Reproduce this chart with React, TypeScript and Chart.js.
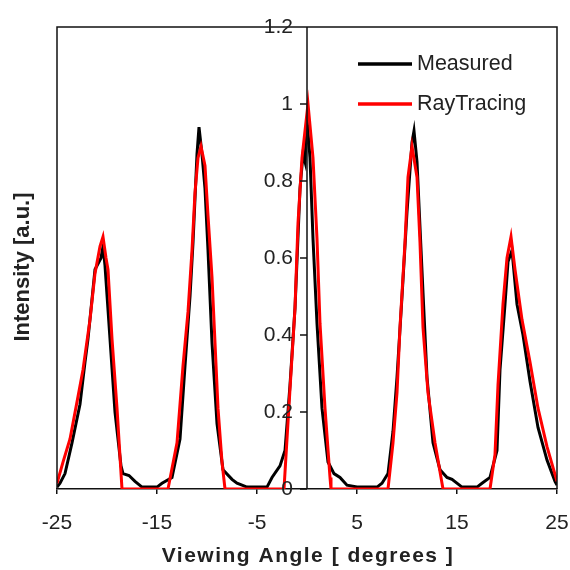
import React, { useEffect, useRef } from "react";
import { Chart, registerables } from "chart.js";

Chart.register(...registerables);

const measuredAngles = [
  -25, -24.7, -24.2, -23.5, -22.7, -22.2, -21.9, -21.2, -20.6, -20.4, -20.2, -19.7, -19.2, -18.6, -18.4, -17.8, -17.2, -16.5,
  -15.0, -14.5, -13.5, -12.7, -12.2, -11.7, -11.4, -11.0, -10.8, -10.5, -10.2, -9.9, -9.5, -9.0, -8.4, -7.5, -7.0, -6.0,
  -4.0, -3.5, -2.7, -2.2, -1.7, -1.2, -0.7, -0.4, -0.2, 0, 0.3, 0.6, 1.0, 1.5, 2.1, 2.7, 3.3, 4.0, 5.0,
  7.0, 7.5, 8.1, 8.6, 9.0, 9.5, 10.0, 10.5, 10.7, 11.0, 11.3, 11.6, 12.0, 12.6, 13.3, 14.0, 14.5, 15.5,
  17.0, 17.5, 18.3, 19.0, 19.3, 19.8, 20.1, 20.5, 21.0, 21.6, 22.3, 23.1, 24.0, 24.8, 25,
];
const measuredValues = [
  0.005, 0.015, 0.04, 0.12, 0.22, 0.33, 0.39, 0.57, 0.6, 0.63, 0.58, 0.39, 0.2, 0.06, 0.04, 0.035, 0.02, 0.005,
  0.005, 0.015, 0.03, 0.13, 0.32, 0.5, 0.64, 0.87, 0.94, 0.87, 0.78, 0.62, 0.38, 0.17, 0.05, 0.025, 0.015, 0.005,
  0.005, 0.03, 0.06, 0.1, 0.27, 0.47, 0.78, 0.87, 0.85, 0.96, 0.86, 0.65, 0.43, 0.21, 0.07, 0.04, 0.03, 0.01, 0.005,
  0.005, 0.015, 0.04, 0.15, 0.29, 0.5, 0.72, 0.9, 0.93, 0.85, 0.68, 0.51, 0.29, 0.12, 0.05, 0.03, 0.025, 0.005,
  0.005, 0.015, 0.03, 0.1, 0.31, 0.48, 0.59, 0.62, 0.48, 0.4, 0.28, 0.16, 0.075, 0.02, 0.01,
];

const rayAngles = [
  -25, -24.4, -23.7, -22.9, -22.4, -21.7, -21.2, -20.7, -20.4, -20.1, -19.9, -19.5, -19.0, -18.5,
  -13.9, -13.0, -12.4, -11.9, -11.5, -11.2, -10.9, -10.6, -10.2, -9.9, -9.5, -9.2, -8.9, -8.5, -8.2,
  -2.3, -1.7, -1.2, -0.9, -0.5, 0.1, 0.6, 1.0, 1.3, 1.8, 2.3, 2.4,
  8.1, 8.6, 9.0, 9.3, 9.8, 10.1, 10.5, 11.0, 11.3, 11.6, 12.1, 12.8, 13.5, 13.6,
  18.3, 18.8, 19.1, 19.6, 20.0, 20.4, 20.8, 21.5, 22.3, 23.1, 24.0, 25,
];
const rayValues = [
  0.015, 0.07, 0.13, 0.24, 0.31, 0.44, 0.56, 0.63, 0.655, 0.6, 0.57, 0.39, 0.21, 0,
  0, 0.12, 0.32, 0.46, 0.62, 0.77, 0.86, 0.89, 0.84, 0.71, 0.55, 0.38, 0.21, 0.07, 0,
  0, 0.26, 0.47, 0.69, 0.86, 1.0, 0.86, 0.65, 0.43, 0.21, 0.03, 0,
  0, 0.12, 0.25, 0.42, 0.64, 0.81, 0.89, 0.81, 0.64, 0.42, 0.25, 0.12, 0.015, 0,
  0, 0.09, 0.27, 0.48, 0.6, 0.655, 0.57, 0.44, 0.33, 0.21, 0.11, 0.02,
];

const xTickValues = [-25, -15, -5, 5, 15, 25];
const yTickValues = [0, 0.2, 0.4, 0.6, 0.8, 1, 1.2];
const seriesNames = ["Measured", "RayTracing"];
const seriesColors = ["#000000", "#ff0000"];
const xTitle = "Viewing Angle [ degrees ]";
const yTitle = "Intensity [a.u.]";

const TICK_FONT = '"Liberation Sans", Arial, sans-serif';
const TEXT_COLOR = "#222222";

const framePlugin = {
  id: "frameAndCenterAxis",
  afterDatasetsDraw(chart: any) {
    const { ctx, chartArea: a, scales } = chart;
    const xs = scales.x;
    const ys = scales.y;
    const x0 = xs.getPixelForValue(0);
    ctx.save();
    ctx.strokeStyle = "#111111";
    ctx.lineWidth = 1.5;
    ctx.beginPath();
    ctx.moveTo(a.left, a.bottom);
    ctx.lineTo(a.left, a.top);
    ctx.lineTo(a.right, a.top);
    ctx.lineTo(a.right, a.bottom);
    ctx.moveTo(x0, a.top);
    ctx.lineTo(x0, a.bottom);
    yTickValues.forEach((v) => {
      const y = ys.getPixelForValue(v);
      ctx.moveTo(x0 - 7, y);
      ctx.lineTo(x0, y);
    });
    ctx.stroke();

    ctx.font = `21px ${TICK_FONT}`;
    ctx.fillStyle = TEXT_COLOR;
    ctx.textAlign = "right";
    ctx.textBaseline = "middle";
    yTickValues.forEach((v) => {
      ctx.fillText(String(v), x0 - 14, ys.getPixelForValue(v));
    });

    // legend inside the plot area
    const lx1 = a.left + 301;
    const lx2 = a.left + 355;
    const ly = [a.top + 37, a.top + 77];
    seriesNames.forEach((name, i) => {
      ctx.strokeStyle = seriesColors[i];
      ctx.lineWidth = 3.5;
      ctx.beginPath();
      ctx.moveTo(lx1, ly[i]);
      ctx.lineTo(lx2, ly[i]);
      ctx.stroke();
      ctx.fillStyle = TEXT_COLOR;
      ctx.textAlign = "left";
      ctx.textBaseline = "middle";
      ctx.font = `21.5px ${TICK_FONT}`;
      ctx.fillText(name, lx2 + 5, ly[i]);
    });

    // axis titles
    ctx.fillStyle = TEXT_COLOR;
    ctx.textAlign = "center";
    ctx.textBaseline = "middle";
    ctx.font = `bold 21px ${TICK_FONT}`;
    try { (ctx as any).letterSpacing = "1.5px"; } catch (e) {}
    ctx.fillText(xTitle, (a.left + a.right) / 2 + 1, 556);
    try { (ctx as any).letterSpacing = "0px"; } catch (e) {}
    ctx.save();
    ctx.translate(23, (a.top + a.bottom) / 2 + 9);
    ctx.rotate(-Math.PI / 2);
    ctx.font = `bold 22px ${TICK_FONT}`;
    ctx.fillText(yTitle, 0, 0);
    ctx.restore();
    ctx.restore();
  },
};

export default function App() {
  const canvasRef = useRef<HTMLCanvasElement | null>(null);

  useEffect(() => {
    const canvas = canvasRef.current;
    if (!canvas) return;
    const toPoints = (xsArr: number[], ysArr: number[]) => xsArr.map((x, i) => ({ x, y: ysArr[i] }));
    const chart = new Chart(canvas, {
      type: "scatter",
      data: {
        datasets: [
          {
            label: seriesNames[0],
            data: toPoints(measuredAngles, measuredValues),
            borderColor: seriesColors[0],
            backgroundColor: seriesColors[0],
            borderWidth: 3,
            showLine: true,
            pointRadius: 0,
            tension: 0,
            order: 2,
          },
          {
            label: seriesNames[1],
            data: toPoints(rayAngles, rayValues),
            borderColor: seriesColors[1],
            backgroundColor: seriesColors[1],
            borderWidth: 3,
            showLine: true,
            pointRadius: 0,
            tension: 0,
            order: 1,
          },
        ],
      },
      options: {
        animation: false,
        responsive: false,
        devicePixelRatio: 1,
        layout: { padding: { top: 27, right: 13, left: 57, bottom: 0 } },
        plugins: {
          legend: { display: false },
          tooltip: { enabled: false },
        },
        scales: {
          x: {
            type: "linear",
            position: "bottom",
            min: -25,
            max: 25,
            afterBuildTicks: (scale: any) => {
              scale.ticks = xTickValues.map((v) => ({ value: v }));
            },
            afterFit: (scale: any) => {
              scale.height = 81;
              scale.paddingLeft = 0;
              scale.paddingRight = 0;
            },
            ticks: {
              color: TEXT_COLOR,
              font: { family: TICK_FONT, size: 21 },
              padding: 17,
              maxRotation: 0,
              autoSkip: false,
              callback: (v: any) => String(v),
            },
            grid: {
              display: true,
              drawOnChartArea: false,
              drawTicks: true,
              tickLength: 5,
              color: "#111111",
              lineWidth: 1.5,
            },
            border: { display: true, color: "#111111", width: 1.5 },
            title: { display: false },
          },
          y: {
            type: "linear",
            display: false,
            min: 0,
            max: 1.2,
          },
        },
      },
      plugins: [framePlugin],
    } as any);
    return () => chart.destroy();
  }, []);

  return (
    <div style={{ position: "absolute", left: 0, top: 0, width: 570, height: 570, background: "#ffffff" }}>
      <canvas ref={canvasRef} width={570} height={570} style={{ display: "block" }} />
    </div>
  );
}
